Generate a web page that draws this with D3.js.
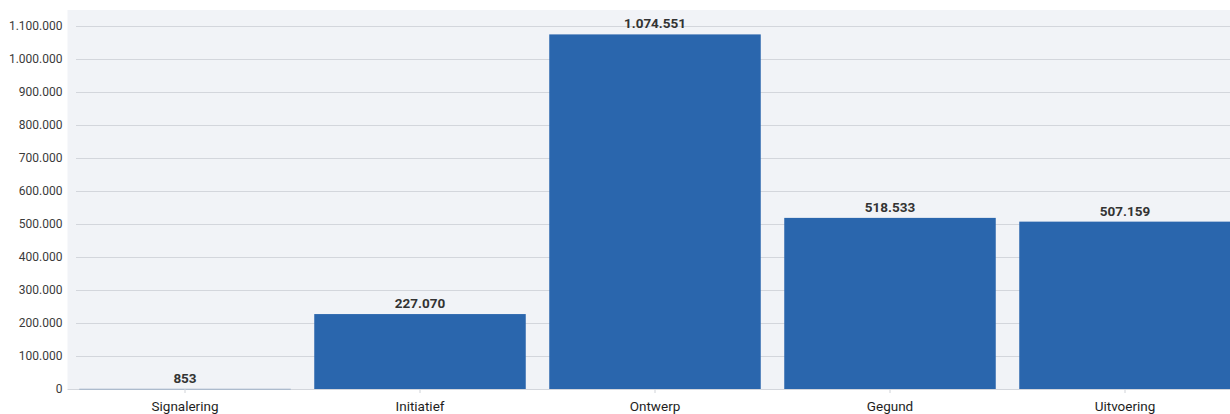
<!DOCTYPE html>
<html>
<head>
<meta charset="utf-8">
<script src="https://cdn.jsdelivr.net/npm/d3@7"></script>
<style>
  html, body { margin: 0; padding: 0; background: #fff; }
  svg { display: block; overflow: hidden; }
  text { font-family: Roboto, "Noto Sans", sans-serif; }
</style>
</head>
<body>
<svg id="chart" width="1230" height="414"></svg>
<script>
// Fases and their totals
const categories = ["Signalering", "Initiatief", "Ontwerp", "Gegund", "Uitvoering"];
const values = [853, 227070, 1074551, 518533, 507159];
const yTicks = [0, 100000, 200000, 300000, 400000, 500000, 600000, 700000, 800000, 900000, 1000000, 1100000];

const svg = d3.select("#chart");
const W = 1230, H = 414;
const plot = { left: 67.5, right: 1242.5, top: 10, bottom: 389 };

// Dutch number formatting: dots as thousands separator
const nl = d3.formatLocale({ decimal: ",", thousands: ".", grouping: [3], currency: ["€", ""] });
const fmt = nl.format(",d");

const x = d3.scaleBand()
  .domain(categories)
  .range([plot.left, plot.right])
  .paddingInner(0.1)
  .paddingOuter(0.05);

const y = d3.scaleLinear()
  .domain([0, 1100000 * (plot.bottom - plot.top) / (plot.bottom - 26)])
  .range([plot.bottom, plot.top]);

// plot background
svg.append("rect")
  .attr("x", plot.left).attr("y", plot.top)
  .attr("width", W - plot.left).attr("height", plot.bottom - plot.top)
  .attr("fill", "#f1f3f7");

// gridlines
svg.append("g")
  .selectAll("line")
  .data(yTicks)
  .join("line")
  .attr("x1", d => d === 0 ? plot.left : 76)
  .attr("x2", W)
  .attr("y1", d => Math.round(y(d)) + 0.5)
  .attr("y2", d => Math.round(y(d)) + 0.5)
  .attr("stroke", "#d3d6dc")
  .attr("stroke-width", 1);

// y axis labels
const yAxis = d3.axisLeft(y).tickValues(yTicks).tickFormat(fmt).tickSize(0).tickPadding(5);
const gy = svg.append("g").attr("transform", `translate(${plot.left},0)`).call(yAxis);
gy.select(".domain").remove();
gy.selectAll("text")
  .attr("font-size", 12)
  .attr("fill", "#3a3a3a")
  .attr("font-family", "Roboto, sans-serif");

// bars
svg.append("g")
  .selectAll("rect")
  .data(categories)
  .join("rect")
  .attr("x", d => x(d))
  .attr("width", x.bandwidth())
  .attr("y", (d, i) => y(values[i]))
  .attr("height", (d, i) => Math.max(1, plot.bottom - y(values[i])))
  .attr("fill", (d, i) => values[i] < 5000 ? "#9fb1c8" : "#2a66ad");

// value labels
svg.append("g")
  .selectAll("text")
  .data(categories)
  .join("text")
  .attr("x", d => x(d) + x.bandwidth() / 2)
  .attr("y", (d, i) => y(values[i]) - 6)
  .attr("text-anchor", "middle")
  .attr("font-size", 13.5)
  .attr("font-weight", "bold")
  .attr("fill", "#333")
  .text((d, i) => fmt(values[i]));

// x axis
const xAxis = d3.axisBottom(x).tickSize(4).tickPadding(8);
const gx = svg.append("g").attr("transform", `translate(0,${plot.bottom})`).call(xAxis);
gx.select(".domain").remove();
gx.selectAll(".tick line").attr("stroke", "#d0d3d8");
gx.selectAll("text")
  .attr("font-size", 13.5)
  .attr("fill", "#1e1e1e")
  .attr("font-family", "Roboto, sans-serif");
</script>
</body>
</html>
